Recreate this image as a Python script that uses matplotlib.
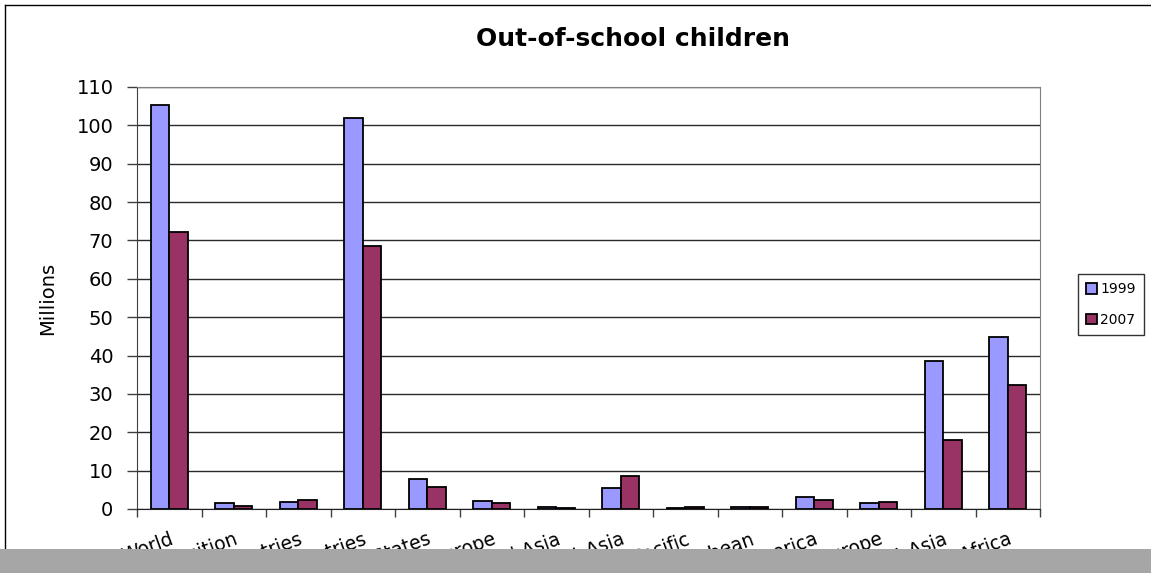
import numpy as np
import matplotlib.pyplot as plt
from matplotlib.lines import Line2D
from matplotlib.patches import Rectangle

# out-of-school children, millions
categories = ["World", "Countries in transition", "Developed countries",
              "Developing countries", "Arab States", "Central and Eastern Europe",
              "Central Asia", "East Asia", "Pacific", "Caribbean", "Latin America",
              "North America and Western Europe", "South and West Asia",
              "Sub-Saharan Africa"]
v1999 = [105.2, 1.5, 1.9, 101.8, 7.9, 2.1, 0.5, 5.5, 0.3, 0.5, 3.0, 1.5, 38.7, 44.8]
v2007 = [72.1, 0.9, 2.4, 68.6, 5.7, 1.6, 0.3, 8.6, 0.5, 0.5, 2.4, 1.9, 18.1, 32.3]
series_labels = ["1999", "2007"]
yticks = list(range(0, 111, 10))

plt.rcParams['font.family'] = ['DejaVu Sans']

fig = plt.figure(figsize=(11.51, 5.73), dpi=100)
ax = fig.add_axes([137 / 1151, 1 - 509 / 573, 903 / 1151, 422 / 573])

x = np.arange(len(categories))
w = 0.284
ax.bar(x - w / 2, v1999, w, color='#9999FF', edgecolor='black', linewidth=1.3,
       label=series_labels[0], zorder=3)
ax.bar(x + w / 2, v2007, w, color='#993366', edgecolor='black', linewidth=1.3,
       label=series_labels[1], zorder=3)

ax.set_xlim(-0.5, len(categories) - 0.5)
ax.set_ylim(0, 110)
ax.set_yticks(yticks)
ax.tick_params(axis='y', labelsize=14, length=7, width=1, pad=10, color='#404040')
ax.yaxis.grid(True, color='#2a2a2a', linewidth=1, zorder=0)

# category labels at centres, tick marks at boundaries
ax.set_xticks(x)
ax.set_xticklabels(categories, rotation=20, ha='right', va='top',
                   rotation_mode='anchor', fontsize=13.5)
ax.tick_params(axis='x', which='major', length=0, pad=15)
ax.set_xticks(np.arange(-0.5, len(categories), 1.0), minor=True)
ax.tick_params(axis='x', which='minor', length=6, width=1, color='#404040')

for s in ['top', 'right']:
    ax.spines[s].set_color('#808080')
ax.spines['left'].set_color('#404040')
ax.spines['bottom'].set_color('#202020')

fig.text(633 / 1151, 1 - 39 / 573, "Out-of-school children", ha='center', va='center',
         fontsize=18, fontweight='bold')
fig.text(48 / 1151, 1 - 298 / 573, "Millions", rotation=90, ha='center', va='center',
         fontsize=14)

leg = fig.legend(loc='upper left', bbox_to_anchor=(1078 / 1151, 1 - 274 / 573),
                 fontsize=10, frameon=True, fancybox=False, handlelength=0.8,
                 handleheight=0.8, handletextpad=0.2, labelspacing=1.2,
                 borderpad=0.6, borderaxespad=0)
leg.get_frame().set_edgecolor('black')
leg.get_frame().set_linewidth(1)

# outer chart border
fig.add_artist(Line2D([5 / 1151, 5 / 1151], [0, 1 - 5 / 573], color='black', lw=1))
fig.add_artist(Line2D([5 / 1151, 1], [1 - 5 / 573, 1 - 5 / 573], color='black', lw=1))

# scanned-page cut-off strip at the bottom
fig.add_artist(Rectangle((0, 0), 1, 24 / 573, transform=fig.transFigure,
                         facecolor='#a6a6a6', edgecolor='none', zorder=10))

fig.savefig("out.png", dpi=100)
